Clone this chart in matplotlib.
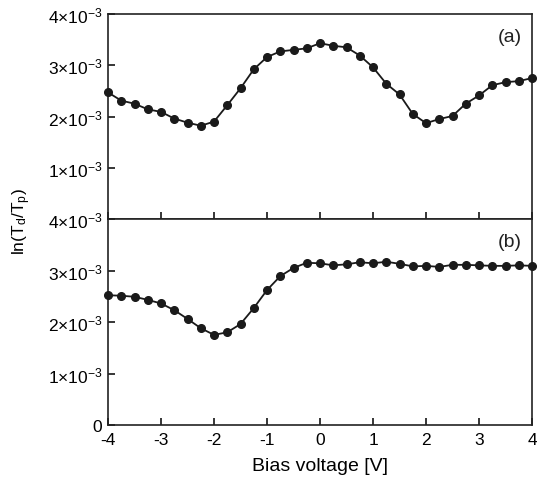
import numpy as np
import matplotlib
matplotlib.use("Agg")
import matplotlib.pyplot as plt

plt.rcParams["font.family"] = ["Liberation Sans", "DejaVu Sans"]
plt.rcParams["mathtext.fontset"] = "custom"
plt.rcParams["mathtext.rm"] = "Liberation Sans"
plt.rcParams["mathtext.it"] = "Liberation Sans"

# bias voltage, 0.25 V steps from -4 to 4
bias = np.arange(-4, 4.001, 0.25)

# panel (a), in units of 1e-3
ratio_a = [2.47, 2.31, 2.25, 2.14, 2.09, 1.96, 1.88, 1.82, 1.90, 2.22, 2.55,
           2.92, 3.16, 3.27, 3.30, 3.33, 3.43, 3.38, 3.35, 3.19, 2.96, 2.64,
           2.43, 2.05, 1.87, 1.95, 2.01, 2.25, 2.41, 2.61, 2.67, 2.69, 2.75]
# panel (b), in units of 1e-3
ratio_b = [2.52, 2.51, 2.49, 2.43, 2.36, 2.23, 2.06, 1.88, 1.75, 1.80, 1.96,
           2.27, 2.62, 2.89, 3.05, 3.15, 3.14, 3.10, 3.12, 3.16, 3.14, 3.17,
           3.13, 3.08, 3.09, 3.07, 3.11, 3.11, 3.10, 3.09, 3.09, 3.10, 3.09]

ytick_vals = [0, 1e-3, 2e-3, 3e-3, 4e-3]
ytick_a = ["", r"$1{\times}10^{-3}$", r"$2{\times}10^{-3}$", r"$3{\times}10^{-3}$", r"$4{\times}10^{-3}$"]
ytick_b = ["0", r"$1{\times}10^{-3}$", r"$2{\times}10^{-3}$", r"$3{\times}10^{-3}$", r"$4{\times}10^{-3}$"]
xticks = [-4, -3, -2, -1, 0, 1, 2, 3, 4]

fig = plt.figure(figsize=(5.37, 4.85), dpi=100)
W, H = 537, 485
ax_a = fig.add_axes([108 / W, 1 - 220 / H, 424 / W, 205 / H])
ax_b = fig.add_axes([108 / W, 1 - 426 / H, 424 / W, 206 / H], sharex=ax_a)

for ax, vals, labs, tag in [(ax_a, ratio_a, ytick_a, "(a)"), (ax_b, ratio_b, ytick_b, "(b)")]:
    y = np.array(vals) * 1e-3
    ax.plot(bias, y, color="#1a1a1a", lw=1.3, marker="o", ms=5.5,
            mfc="#1a1a1a", mec="#1a1a1a", clip_on=False, zorder=3)
    ax.set_xlim(-4, 4)
    ax.set_ylim(0, 4e-3)
    ax.set_yticks(ytick_vals)
    ax.set_yticklabels(labs)
    ax.set_xticks(xticks)
    ax.tick_params(direction="in", length=5, width=1.1, labelsize=12.5,
                   top=False, right=False, pad=4)
    ax.tick_params(axis="x", pad=5)
    for s in ax.spines.values():
        s.set_linewidth(1.2)
        s.set_color("#222222")
    ax.text(0.975, 0.93, tag, transform=ax.transAxes, ha="right", va="top",
            fontsize=14, color="#222222")

ax_a.tick_params(labelbottom=False)
ax_b.set_xticklabels([str(v) for v in xticks])
ax_b.set_xlabel("Bias voltage [V]", fontsize=14, labelpad=7)
fig.text(22 / W, 1 - 222 / H, r"ln(T$_\mathrm{d}$/T$_\mathrm{p}$)", rotation=90,
         ha="center", va="center", fontsize=12.5)

fig.savefig("out.png", dpi=100)
